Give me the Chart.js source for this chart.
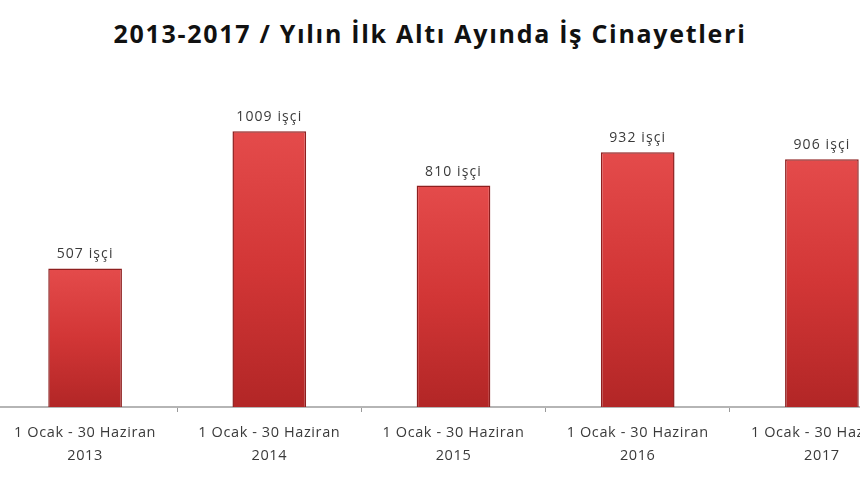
<!DOCTYPE html>
<html lang="tr">
<head>
<meta charset="utf-8">
<script src="https://cdn.jsdelivr.net/npm/chart.js@4"></script>
<style>
  html, body { margin: 0; padding: 0; background: #fff; }
  body { width: 860px; height: 480px; overflow: hidden; position: relative; }
  #title {
    position: absolute; left: 0; top: 16px; width: 860px; text-align: center;
    font-family: "Open Sans", Lato, sans-serif; font-weight: bold; font-size: 25px;
    letter-spacing: 1.7px; color: #111;
  }
  #wrap { position: absolute; left: -7px; top: 0; width: 921px; height: 480px; }
</style>
</head>
<body>
<div id="title">2013-2017 / Yılın İlk Altı Ayında İş Cinayetleri</div>
<div id="wrap"><canvas id="myChart"></canvas></div>
<script>
// Kategoriler ve değerler
const donemler = ['1 Ocak - 30 Haziran', '1 Ocak - 30 Haziran', '1 Ocak - 30 Haziran', '1 Ocak - 30 Haziran', '1 Ocak - 30 Haziran'];
const yillar = ['2013', '2014', '2015', '2016', '2017'];
const olumler = [507, 1009, 810, 932, 906];
const birim = 'işçi';

// Etiketler: iki satır
const etiketler = donemler.map((d, i) => [d, yillar[i]]);

// Eksen yazıları biraz aralıklı olsun
const harfAraligi = {
  id: 'harfAraligi',
  beforeDraw(chart) {
    chart.ctx.letterSpacing = '0.6px';
  }
};

// Çubukların üstüne değer yazan eklenti
const degerYazisi = {
  id: 'degerYazisi',
  afterDatasetsDraw(chart) {
    const ctx = chart.ctx;
    const meta = chart.getDatasetMeta(0);
    ctx.save();
    ctx.letterSpacing = '1.1px';
    ctx.font = '14px "Open Sans", Lato, sans-serif';
    ctx.fillStyle = '#3a3a3a';
    ctx.textAlign = 'center';
    ctx.textBaseline = 'middle';
    meta.data.forEach((bar, i) => {
      ctx.fillText(olumler[i] + ' ' + birim, bar.x, bar.y - 14);
    });
    ctx.restore();
  }
};

function cubukRengi(context) {
  const chart = context.chart;
  if (!chart.chartArea) return '#d63a3a';
  const y = chart.scales.y;
  const ust = y.getPixelForValue(context.raw);
  const alt = y.getPixelForValue(0);
  const g = chart.ctx.createLinearGradient(0, ust, 0, alt);
  g.addColorStop(0, '#e44b4b');
  g.addColorStop(0.5, '#d23636');
  g.addColorStop(1, '#b22626');
  return g;
}

const ctx = document.getElementById('myChart').getContext('2d');
new Chart(ctx, {
  type: 'bar',
  data: {
    labels: etiketler,
    datasets: [{
      data: olumler,
      backgroundColor: cubukRengi,
      borderColor: '#8e1f1f',
      borderWidth: 1.5,
      categoryPercentage: 1,
      barPercentage: 0.4
    }]
  },
  options: {
    responsive: true,
    maintainAspectRatio: false,
    animation: false,
    layout: { padding: { top: 79, left: 0, right: 0, bottom: 0 } },
    plugins: {
      legend: { display: false },
      tooltip: { enabled: false }
    },
    scales: {
      x: {
        afterFit: s => { s.height = 73; },
        grid: { offset: true, drawOnChartArea: false, drawTicks: true, tickLength: 5, color: '#9a9a9a' },
        border: { display: true, color: '#b5b5b5', width: 2 },
        ticks: {
          color: '#3a3a3a',
          padding: 9,
          maxRotation: 0,
          autoSkip: false,
          font: { family: '"Open Sans", Lato, sans-serif', size: 14.5, lineHeight: 1.6 }
        }
      },
      y: {
        display: false,
        min: 0,
        max: 1200
      }
    }
  },
  plugins: [harfAraligi, degerYazisi]
});
</script>
</body>
</html>
